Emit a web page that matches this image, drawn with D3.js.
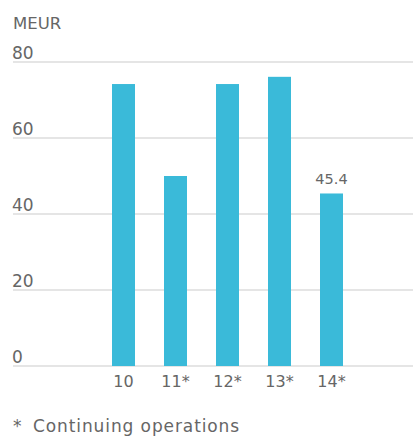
<!DOCTYPE html>
<html>
<head>
<meta charset="utf-8">
<script src="https://cdn.jsdelivr.net/npm/d3@7"></script>
<style>
  body { margin: 0; background: #fff; }
  text { font-family: "DejaVu Sans", sans-serif; fill: #666; }
</style>
</head>
<body>
<div id="chart"></div>
<script>
// values (MEUR)
const years = ["10", "11*", "12*", "13*", "14*"];
const values = [74.2, 50.0, 74.2, 76.1, 45.4];
const labelled = ["14*"];
const yTicks = [0, 20, 40, 60, 80];

const width = 413, height = 436;

const svg = d3.select("#chart").append("svg")
    .attr("width", width)
    .attr("height", height);

const y = d3.scaleLinear()
    .domain([0, 80])
    .range([366, 62]);

const x = d3.scaleBand()
    .domain(years)
    .range([97.5, 357.5])
    .paddingInner(29 / 52)
    .paddingOuter(29 / 104);

// unit label
svg.append("text")
    .attr("x", 13)
    .attr("y", 29)
    .attr("font-size", 16.5)
    .text("MEUR");

// gridlines + tick labels
const grid = svg.append("g");
grid.selectAll("line")
    .data(yTicks)
    .join("line")
    .attr("x1", 13)
    .attr("x2", width)
    .attr("y1", d => y(d))
    .attr("y2", d => y(d))
    .style("stroke", "#dcdcdc")
    .style("stroke-width", 1.5);

grid.selectAll("text")
    .data(yTicks)
    .join("text")
    .attr("x", 12)
    .attr("y", d => y(d) - 3)
    .attr("font-size", 17)
    .text(d => d);

// bars
svg.selectAll(".bar")
    .data(years)
    .join("rect")
    .attr("class", "bar")
    .attr("x", d => x(d))
    .attr("width", x.bandwidth())
    .attr("y", (d, i) => y(values[i]))
    .attr("height", (d, i) => y(0) - y(values[i]))
    .style("fill", "#3abad9");

// value label on last bar
svg.selectAll(".val")
    .data(years.filter(d => labelled.includes(d)))
    .join("text")
    .attr("class", "val")
    .attr("x", d => x(d) + x.bandwidth() / 2)
    .attr("y", d => y(values[years.indexOf(d)]) - 9)
    .attr("text-anchor", "middle")
    .attr("font-size", 14.5)
    .text(d => values[years.indexOf(d)].toFixed(1));

// category labels
svg.selectAll(".cat")
    .data(years)
    .join("text")
    .attr("class", "cat")
    .attr("x", d => x(d) + x.bandwidth() / 2)
    .attr("y", 387)
    .attr("text-anchor", "middle")
    .attr("font-size", 16)
    .text(d => d);

// footnote
svg.append("text")
    .attr("x", 13)
    .attr("y", 432)
    .attr("font-size", 17)
    .text("*");
svg.append("text")
    .attr("x", 33)
    .attr("y", 432)
    .attr("font-size", 17)
    .attr("letter-spacing", 0.9)
    .text("Continuing operations");
</script>
</body>
</html>
